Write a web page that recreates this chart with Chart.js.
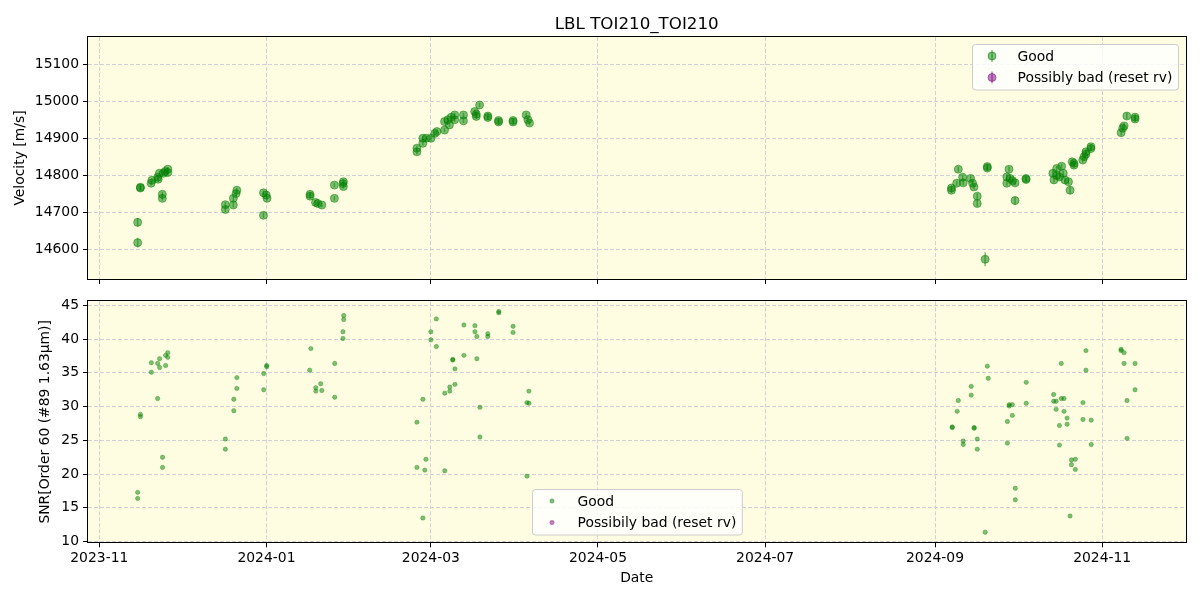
<!DOCTYPE html>
<html><head><meta charset="utf-8">
<script src="https://cdn.jsdelivr.net/npm/chart.js@4.4.1/dist/chart.umd.min.js"></script>
<style>
html,body{margin:0;padding:0;background:#fff;width:1200px;height:600px;overflow:hidden}
canvas{position:absolute;left:0}
#c1{top:0;width:1200px;height:292px}
#c2{top:289px;width:1200px;height:311px}
</style></head><body>
<canvas id="c1" width="1200" height="292"></canvas>
<canvas id="c2" width="1200" height="311"></canvas>
<script>
// ---------------- DATA ----------------
const chartTitle = 'LBL TOI210_TOI210';
const xTickLabels = ['2023-11','2024-01','2024-03','2024-05','2024-07','2024-09','2024-11'];
const rvTicks = [14600,14700,14800,14900,15000,15100];
const snrTicks = [10,15,20,25,30,35,40,45];

const rvDates = [
 '2023-11-15','2023-11-15','2023-11-16','2023-11-16','2023-11-19T22','2023-11-20T05','2023-11-22T07','2023-11-22T12','2023-11-22T22',
 '2023-11-24','2023-11-24','2023-11-24T10','2023-11-25','2023-11-26','2023-11-26',
 '2023-12-17','2023-12-17','2023-12-19T22','2023-12-19T22','2023-12-20T22','2023-12-21T05',
 '2023-12-30T22','2023-12-30T22','2023-12-31T22','2024-01-01T05',
 '2024-01-16T22','2024-01-16T22','2024-01-18T22','2024-01-19T17','2024-01-21T05','2024-01-25T19','2024-01-25T19','2024-01-28T22','2024-01-29T02','2024-01-29T02',
 '2024-02-24T22','2024-02-24T22','2024-02-27T02','2024-02-27T02','2024-02-28T07','2024-03-01T02','2024-03-02T10','2024-03-03T05',
 '2024-03-06','2024-03-06','2024-03-07T05','2024-03-07T19','2024-03-08T10','2024-03-09T17','2024-03-09T17','2024-03-12T22','2024-03-12T22',
 '2024-03-17','2024-03-17T14','2024-03-17T14','2024-03-18T19','2024-03-21T19','2024-03-21T19','2024-03-25T17','2024-03-25T17',
 '2024-03-31','2024-03-31','2024-04-04T19','2024-04-05T10','2024-04-06',
 '2024-09-07','2024-09-07','2024-09-08T22','2024-09-09T12','2024-09-11T02','2024-09-11T07','2024-09-14','2024-09-14T17','2024-09-15T05',
 '2024-09-16T10','2024-09-16T10','2024-09-19T07','2024-09-20T02','2024-09-20T02','2024-09-27T05','2024-09-27T05','2024-09-28T10','2024-09-28',
 '2024-09-29T07','2024-09-30T05','2024-09-30T05','2024-10-04T05','2024-10-04T05',
 '2024-10-14','2024-10-14T10','2024-10-15T10','2024-10-15T10','2024-10-16T10','2024-10-17T05','2024-10-17T19','2024-10-18T10','2024-10-19T17',
 '2024-10-20T07','2024-10-21T02','2024-10-21T17','2024-10-21T17','2024-10-24T22','2024-10-25T10','2024-10-26T02','2024-10-26T02','2024-10-27T22','2024-10-27T22',
 '2024-11-07T22','2024-11-08T12','2024-11-09','2024-11-10','2024-11-13','2024-11-13'
];
const rvValues = [
 14618,14673,14768,14766,14779,14787,14795,14790,14806,
 14749,14738,14806,14811,14817,14808,
 14721,14708,14720,14738,14751,14760,
 14753,14692,14747,14738,
 14749,14744,14727,14724,14720,14738,14774,14778,14783,14770,
 14864,14874,14887,14901,14901,14901,14914,14919,
 14923,14946,14951,14937,14958,14964,14951,14964,14948,
 14973,14960,14966,14991,14961,14957,14949,14945,
 14949,14945,14964,14951,14942,
 14760,14766,14779,14817,14795,14780,14792,14779,14769,
 14744,14724,14573,14824,14820,14796,14779,14792,14817,
 14786,14780,14732,14789,14792,
 14806,14788,14819,14800,14796,14825,14806,14788,14783,
 14760,14837,14828,14833,14842,14851,14864,14858,14878,14873,
 14916,14928,14934,14961,14958,14953
];
const rvErrors = [
 13,12,6,6,6,6,6,6,6,
 6,6,6,6,6,6,
 7,7,7,7,7,7,
 6,7,6,6,
 6,6,6,6,6,6,6,6,6,6,
 7,7,6,6,6,6,6,6,
 6,6,6,6,6,6,6,6,6,
 6,6,6,6,6,6,6,6,
 6,6,6,6,6,
 7,7,7,7,7,7,7,7,7,
 8,8,19,8,8,7,7,7,7,
 7,7,11,7,7,
 8,8,7,7,7,7,7,7,7,
 11,7,7,7,7,7,7,7,7,7,
 8,8,8,8,8,8
];

const snrDates = [
 '2023-11-15','2023-11-15','2023-11-16','2023-11-16','2023-11-20','2023-11-20','2023-11-22T07','2023-11-22T07',
 '2023-11-23','2023-11-23','2023-11-24T02','2023-11-24T02','2023-11-25T05','2023-11-25T05','2023-11-26','2023-11-26',
 '2023-12-17','2023-12-17','2023-12-20T02','2023-12-20T02','2023-12-21T05','2023-12-21T05',
 '2023-12-31','2023-12-31','2024-01-01T02','2024-01-01T02',
 '2024-01-17T05','2024-01-16T19','2024-01-19','2024-01-19','2024-01-20T19','2024-01-21T05','2024-01-25T22','2024-01-25T22',
 '2024-01-28T22','2024-01-28T22','2024-01-29T05','2024-01-29T05',
 '2024-02-24T22','2024-02-24T22','2024-02-27T02','2024-02-27T02','2024-02-27T19','2024-02-28T05',
 '2024-03-01','2024-03-01','2024-03-03','2024-03-03','2024-03-06T02','2024-03-06T02','2024-03-07T22','2024-03-07T22',
 '2024-03-09','2024-03-09','2024-03-09T19','2024-03-09T19','2024-03-13T02','2024-03-13T02','2024-03-17T02','2024-03-17T02',
 '2024-03-17T19','2024-03-17T19','2024-03-18T22','2024-03-18T22','2024-03-21T19','2024-03-21T19','2024-03-25T19','2024-03-25T19',
 '2024-03-31','2024-03-31','2024-04-05T02','2024-04-05T02','2024-04-05T19','2024-04-05T19',
 '2024-09-07T07','2024-09-07T07','2024-09-09T02','2024-09-09T12','2024-09-11T07','2024-09-11T07','2024-09-14T05','2024-09-14T05',
 '2024-09-15T07','2024-09-15T07','2024-09-16T10','2024-09-16T10','2024-09-20T02','2024-09-20T10','2024-09-19T07',
 '2024-09-27T10','2024-09-27T10','2024-09-28T02','2024-09-28T02','2024-09-29T05','2024-09-29T05','2024-09-30T07','2024-09-30T07',
 '2024-10-04T07','2024-10-04T07','2024-10-14T07','2024-10-14T07','2024-10-15T05','2024-10-15T05','2024-10-16T10','2024-10-16T10',
 '2024-10-17T02','2024-10-17T02','2024-10-18T02','2024-10-18T02','2024-10-19T05','2024-10-19T05','2024-10-20T19','2024-10-20T19','2024-10-20T07',
 '2024-10-22T05','2024-10-22T05','2024-10-25','2024-10-25','2024-10-26T02','2024-10-26T02','2024-10-28','2024-10-28',
 '2024-11-07T22','2024-11-07T22','2024-11-09','2024-11-09','2024-11-10T02','2024-11-10T02','2024-11-13','2024-11-13'
];
const snrValues = [
 17.3,16.4,28.85,28.5,36.5,35.1,31.2,36.4,
 37.1,35.8,22.5,21.0,37.6,36.1,38.0,37.3,
 25.2,23.7,31.1,29.4,34.3,32.7,
 34.9,32.5,36.1,35.9,
 38.6,35.4,32.8,32.3,33.4,32.4,36.4,31.4,
 41.1,40.1,43.5,42.9,
 21.0,27.7,31.1,13.5,20.6,22.2,
 41.1,39.9,43.0,38.9,32.0,20.5,32.3,32.9,
 37.0,36.9,35.6,33.3,42.1,37.6,42.0,41.1,
 40.4,37.1,29.9,25.5,40.8,40.4,44.1,43.9,
 41.9,41.0,30.6,19.7,30.5,32.3,
 26.9,27.0,29.3,30.9,24.9,24.4,33.0,31.7,
 26.9,26.8,25.2,23.7,36.0,34.2,11.4,
 27.8,24.6,30.3,30.1,30.3,28.7,17.9,16.2,
 33.6,30.5,31.8,30.8,30.8,29.6,27.2,24.3,
 36.4,31.2,31.2,29.3,28.3,27.4,22.1,21.4,13.8,
 22.2,20.7,30.6,28.1,38.3,35.4,28.0,24.4,
 38.5,38.3,38.0,36.4,30.9,25.3,36.4,32.5
];
const badDates = [];
const badValues = [];
const badErrors = [];

// ---------------- helpers ----------------
const t = s => Date.parse(s.length === 10 ? s + 'T00:00:00Z' : s + ':00:00Z');
const pts = (ds, vs) => ds.map((d, i) => ({x: t(d), y: vs[i]}));
const xMin = t('2023-10-27T21'), xMax = t('2024-12-01T10');
const FONT = '"DejaVu Sans", sans-serif';
const FS = 13.9;
const GREEN = 'rgba(0,128,0,0.5)', PURPLE = 'rgba(128,0,128,0.5)';
const GRID = '#d0d0d6';

const framePlugin = {
  id: 'frame',
  beforeDraw(chart) {
    const {ctx, chartArea: a} = chart;
    ctx.save(); ctx.fillStyle = '#fffde1';
    ctx.fillRect(a.left, a.top, a.right - a.left, a.bottom - a.top); ctx.restore();
  },
  afterDatasetsDraw(chart) {
    const {ctx, chartArea: a} = chart;
    ctx.save(); ctx.strokeStyle = '#000'; ctx.lineWidth = 1;
    const l = Math.round(a.left) - 0.5, tp = Math.round(a.top) - 0.5;
    const r = Math.round(a.right) + 0.5, b = Math.round(a.bottom) + 0.5;
    ctx.strokeRect(l, tp, r - l, b - tp); ctx.restore();
  }
};

const errorBarPlugin = {
  id: 'errorBars',
  beforeDatasetsDraw(chart) {
    const ctx = chart.ctx, ys = chart.scales.y, a = chart.chartArea;
    chart.data.datasets.forEach((ds, i) => {
      if (!ds.errors) return;
      const meta = chart.getDatasetMeta(i);
      ctx.save();
      ctx.beginPath(); ctx.rect(a.left, a.top, a.right - a.left, a.bottom - a.top); ctx.clip();
      ctx.strokeStyle = ds.borderColor; ctx.lineWidth = 1.5;
      meta.data.forEach((pt, j) => {
        const v = ds.data[j].y, e = ds.errors[j];
        ctx.beginPath();
        ctx.moveTo(pt.x, ys.getPixelForValue(v - e));
        ctx.lineTo(pt.x, ys.getPixelForValue(v + e));
        ctx.stroke();
      });
      ctx.restore();
    });
  }
};

const legendPlugin = {
  id: 'boxLegend',
  afterDraw(chart, args, opts) {
    if (!opts || !opts.loc) return;
    const ctx = chart.ctx, a = chart.chartArea;
    ctx.save();
    ctx.font = FS + 'px ' + FONT;
    const dss = chart.data.datasets;
    const tw = Math.max(...dss.map(d => ctx.measureText(d.label).width));
    const w = 45 + tw + 6, h = 45.5;
    let x, y;
    if (opts.loc === 'upper right') { x = a.right - 7.5 - w; y = a.top + 7; }
    else { x = (a.left + a.right) / 2 - w / 2; y = a.bottom - 7.5 - h; }
    x = Math.round(x) + 0.5; y = Math.round(y) + 0.5;
    ctx.beginPath(); ctx.roundRect(x, y, w, h, 3);
    ctx.fillStyle = 'rgba(255,255,255,0.8)'; ctx.fill();
    ctx.strokeStyle = '#cccccc'; ctx.lineWidth = 1; ctx.stroke();
    dss.forEach((d, i) => {
      const cy = y + 11.5 + i * 21.5, cx = x + 19.5;
      ctx.fillStyle = d.backgroundColor; ctx.strokeStyle = d.borderColor;
      if (opts.errorbar) {
        ctx.lineWidth = 1.5;
        ctx.beginPath(); ctx.moveTo(cx, cy - 6); ctx.lineTo(cx, cy + 6); ctx.stroke();
        ctx.lineWidth = 1;
        ctx.beginPath(); ctx.arc(cx, cy, 4, 0, Math.PI * 2); ctx.fill(); ctx.stroke();
      } else {
        ctx.lineWidth = 0.6;
        ctx.beginPath(); ctx.arc(cx, cy, 2.2, 0, Math.PI * 2); ctx.fill(); ctx.stroke();
      }
      ctx.fillStyle = '#000'; ctx.textBaseline = 'middle'; ctx.textAlign = 'left';
      ctx.fillText(d.label, x + 45, cy + 1);
    });
    ctx.restore();
  }
};

function xScale(showLabels, height, title) {
  return {
    type: 'linear', min: xMin, max: xMax,
    afterBuildTicks: s => { s.ticks = xTickLabels.map(l => ({value: t(l + '-01')})); },
    afterFit: s => { s.height = height; },
    ticks: {display: showLabels, autoSkip: false, maxRotation: 0, padding: 3, color: '#000',
            font: {family: FONT, size: FS}, callback: (v, i) => xTickLabels[i]},
    grid: {color: GRID, lineWidth: 1, drawTicks: true, tickLength: 5,
           tickColor: '#000', tickWidth: 1, tickBorderDash: []},
    border: {display: false, dash: [4, 2]},
    title: title ? {display: true, text: title, color: '#000', font: {family: FONT, size: FS}, padding: {top: 0, bottom: 13.7}} : {display: false}
  };
}
function yScale(min, max, ticks, title, titlePad) {
  return {
    type: 'linear', min, max,
    afterBuildTicks: s => { s.ticks = ticks.map(v => ({value: v})); },
    afterFit: s => { s.width = 88; },
    ticks: {padding: 4, color: '#000', font: {family: FONT, size: FS}, callback: v => String(v)},
    grid: {color: GRID, lineWidth: 1, drawTicks: true, tickLength: 5,
           tickColor: '#000', tickWidth: 1, tickBorderDash: []},
    border: {display: false, dash: [4, 2]},
    title: {display: true, text: title, color: '#000', font: {family: FONT, size: FS}, padding: {top: titlePad, bottom: 0}}
  };
}

const common = {responsive: false, animation: false, events: []};

new Chart(document.getElementById('c1'), {
  type: 'scatter',
  data: {datasets: [
    {label: 'Good', data: pts(rvDates, rvValues), errors: rvErrors,
     backgroundColor: GREEN, borderColor: GREEN, pointRadius: 4, borderWidth: 1},
    {label: 'Possibly bad (reset rv)', data: pts(badDates, badValues), errors: badErrors,
     backgroundColor: PURPLE, borderColor: PURPLE, pointRadius: 4, borderWidth: 1}
  ]},
  options: Object.assign({}, common, {
    layout: {padding: {left: 0, right: 14.5, top: 0, bottom: 0}},
    plugins: {
      legend: {display: false}, tooltip: {enabled: false},
      title: {display: true, text: chartTitle, fullSize: false, color: '#000',
              font: {family: FONT, size: 16.7, weight: 'normal', lineHeight: 1.2}, padding: {top: 14.5, bottom: 2.5}},
      boxLegend: {loc: 'upper right', errorbar: true}
    },
    scales: {x: xScale(false, 13, null), y: yScale(14519.6, 15175, rvTicks, 'Velocity [m/s]', 12.2)}
  }),
  plugins: [framePlugin, errorBarPlugin, legendPlugin]
});

new Chart(document.getElementById('c2'), {
  type: 'scatter',
  data: {datasets: [
    {label: 'Good', data: pts(snrDates, snrValues),
     backgroundColor: GREEN, borderColor: GREEN, pointRadius: 2.2, borderWidth: 0.6},
    {label: 'Possibily bad (reset rv)', data: pts(badDates, badValues),
     backgroundColor: PURPLE, borderColor: PURPLE, pointRadius: 2.2, borderWidth: 0.6}
  ]},
  options: Object.assign({}, common, {
    layout: {padding: {left: 0, right: 14.5, top: 0, bottom: 0}},
    plugins: {
      legend: {display: false}, tooltip: {enabled: false},
      boxLegend: {loc: 'lower center', errorbar: false}
    },
    scales: {x: xScale(true, 57.7, 'Date'), y: yScale(9.9, 45.6, snrTicks, 'SNR[Order 60 (#89 1.63μm)]', 37.2)}
  }),
  plugins: [framePlugin, legendPlugin]
});
</script>
</body></html>
